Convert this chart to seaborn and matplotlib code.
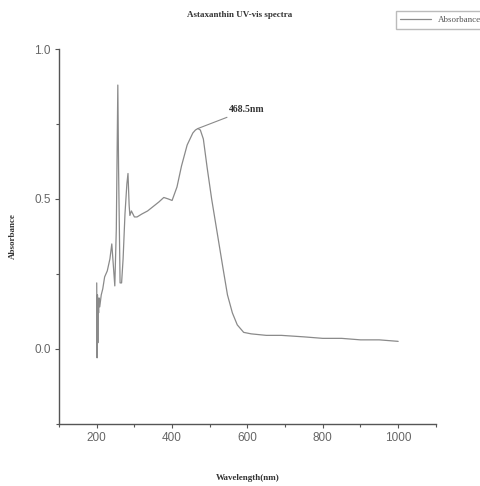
import matplotlib
matplotlib.use("Agg")
import matplotlib.pyplot as plt
import seaborn as sns
from matplotlib.ticker import MultipleLocator

sns.set_theme(style="ticks")
plt.rcParams["font.family"] = ["Liberation Sans", "DejaVu Sans"]

# Data
wavelength = [200, 201, 202, 203, 204, 205, 206, 208, 212, 216, 221, 228, 235,
              240, 244, 248, 252, 256, 258, 262, 266, 270, 275, 280, 283, 286,
              288, 292, 300, 307, 320, 335, 350, 365, 378, 390, 400, 413, 425,
              440, 455, 462, 468.5, 475, 483, 493, 505, 520, 535, 547, 560,
              573, 590, 610, 650, 690, 750, 800, 850, 900, 950, 1000]
absorbance = [0.22, -0.03, 0.18, 0.02, 0.16, 0.12, 0.17, 0.14, 0.18, 0.20,
              0.24, 0.26, 0.30, 0.35, 0.28, 0.21, 0.40, 0.88, 0.60, 0.22, 0.22,
              0.30, 0.45, 0.55, 0.585, 0.48, 0.445, 0.46, 0.44, 0.44, 0.45,
              0.46, 0.475, 0.49, 0.505, 0.50, 0.495, 0.54, 0.61, 0.68, 0.72,
              0.73, 0.735, 0.73, 0.70, 0.605, 0.50, 0.385, 0.27, 0.18, 0.12,
              0.08, 0.055, 0.05, 0.045, 0.045, 0.04, 0.035, 0.035, 0.03, 0.03,
              0.025]
peak_x, peak_y = 468.5, 0.735

fig = plt.figure(figsize=(4.8, 4.86), dpi=100)
ax = fig.add_axes([0.123, 0.128, 0.785, 0.771])

sns.lineplot(x=wavelength, y=absorbance, ax=ax, color="#8a8a8a", lw=0.9,
             label="Absorbance", legend=False, estimator=None, sort=False)

ax.set_xlim(100, 1100)
ax.set_ylim(-0.25, 1.0)
ax.xaxis.set_minor_locator(MultipleLocator(100))
ax.yaxis.set_major_locator(MultipleLocator(0.5))
ax.yaxis.set_minor_locator(MultipleLocator(0.25))
ax.set_xticks([200, 400, 600, 800, 1000])
ax.tick_params(axis="both", which="major", direction="out", length=3,
               width=0.8, color="#555555", labelsize=8.5, labelcolor="#666666",
               pad=3)
ax.tick_params(axis="both", which="minor", direction="out", length=2,
               width=0.8, color="#555555")
for s in ["left", "bottom"]:
    ax.spines[s].set_color("#555555")
    ax.spines[s].set_linewidth(1.0)
sns.despine(ax=ax)

serif = ["Liberation Serif", "DejaVu Serif"]
ax.set_xlabel("Wavelength(nm)", fontsize=6.5, fontweight="bold",
              family=serif, color="#333333")
ax.set_ylabel("Absorbance", fontsize=6.5, fontweight="bold",
              family=serif, color="#333333")
ax.xaxis.set_label_coords(0.5, -0.133)
ax.yaxis.set_label_coords(-0.112, 0.5)
fig.text(0.5, 0.969, "Astaxanthin UV-vis spectra", ha="center", va="center",
         fontsize=6.5, fontweight="bold", family=serif, color="#333333")

ax.annotate("468.5nm", xy=(peak_x, peak_y), xytext=(552, 0.79),
            fontsize=7, fontweight="bold", family=serif, color="#333333",
            arrowprops=dict(arrowstyle="-", color="#8a8a8a", lw=0.8,
                            shrinkA=0, shrinkB=0))

fig.legend(loc="upper left", bbox_to_anchor=(0.815, 0.986),
           prop={"family": serif, "size": 6.5}, frameon=True, fancybox=False,
           edgecolor="#aaaaaa", handlelength=3.4, borderpad=0.5,
           labelcolor="#555555")

fig.savefig("out.png", dpi=100)
